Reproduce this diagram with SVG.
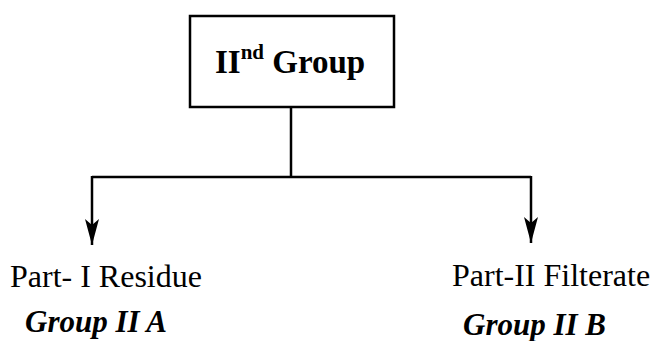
<svg xmlns="http://www.w3.org/2000/svg" width="652" height="341" viewBox="0 0 652 341">
<style>
.ln{stroke:#000;stroke-width:2.5;fill:none}
.t{font-family:'Liberation Serif','Times New Roman',Times,serif;fill:#000}
.b{font-weight:bold}
.bi{font-weight:bold;font-style:italic}
</style>
<defs>
<marker id="ah" markerWidth="26" markerHeight="14" refX="26" refY="7" orient="auto" markerUnits="userSpaceOnUse" viewBox="0 0 26 14">
<path d="M0,0 L26,7 L0,14 L6,7 Z" fill="#000"/>
</marker>
</defs>
<rect width="652" height="341" fill="#fff"/>
<g id="node-top">
<rect x="190" y="16" width="204" height="91" fill="#fff" stroke="#000" stroke-width="2.5"/>
<text class="t b" x="215" y="73" font-size="33" font-family="Liberation Serif">II<tspan font-size="21" dy="-14">nd</tspan><tspan dy="14"> Group</tspan></text>
</g>
<g id="connectors">
<path class="ln" d="M291,107 V177"/>
<path class="ln" d="M92,177 H531"/>
<path class="ln" d="M92,176 V245" marker-end="url(#ah)"/>
<path class="ln" d="M531,176 V243" marker-end="url(#ah)"/>
</g>
<g id="node-a">
<text class="t" x="10" y="287" font-size="32" font-family="Liberation Serif">Part- I Residue</text>
<text class="t bi" x="25" y="332" font-size="31" font-family="Liberation Serif">Group II A</text>
</g>
<g id="node-b">
<text class="t" x="452" y="286" font-size="32" font-family="Liberation Serif">Part-II Filterate</text>
<text class="t bi" x="463" y="335" font-size="31" font-family="Liberation Serif">Group II B</text>
</g>
</svg>
